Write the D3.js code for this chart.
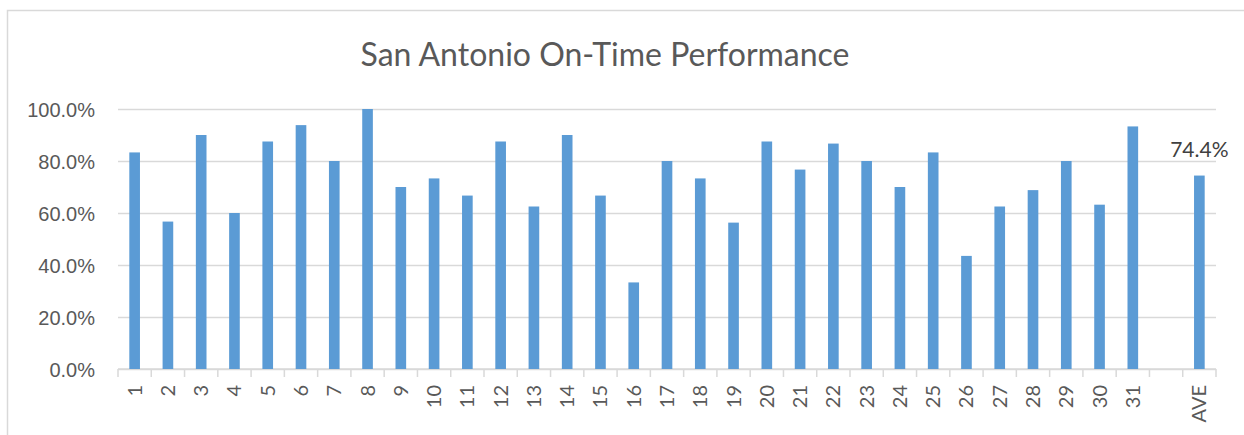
<!DOCTYPE html>
<html>
<head>
<meta charset="utf-8">
<script src="https://cdn.jsdelivr.net/npm/d3@7"></script>
<style>
  body { margin: 0; background: #fff; }
  svg { display: block; font-family: Lato, "Open Sans", sans-serif; }
</style>
</head>
<body>
<svg width="1244" height="435"></svg>
<script>
var categories = ["1", "2", "3", "4", "5", "6", "7", "8", "9", "10",
                  "11", "12", "13", "14", "15", "16", "17", "18", "19", "20",
                  "21", "22", "23", "24", "25", "26", "27", "28", "29", "30",
                  "31", "", "AVE"];

var onTime = [83.3, 56.7, 90.0, 60.0, 87.5, 93.8, 80.0, 100.0, 70.0, 73.3,
              66.7, 87.5, 62.5, 90.0, 66.7, 33.3, 80.0, 73.3, 56.3, 87.5,
              76.7, 86.7, 80.0, 70.0, 83.3, 43.5, 62.5, 68.8, 80.0, 63.2,
              93.3, null, 74.4];

var yTicks = [0, 20, 40, 60, 80, 100];

var data = categories.map(function(c, i) { return {cat: c, key: "k" + i, value: onTime[i]}; });

var svg = d3.select("svg"),
    margin = {top: 109, right: 28, bottom: 66, left: 118},
    width = +svg.attr("width") - margin.left - margin.right,
    height = +svg.attr("height") - margin.top - margin.bottom;

var grey = "#d9d9d9", textColor = "#595959";

// chart frame
svg.append("rect")
    .attr("x", 7.5).attr("y", 10.5)
    .attr("width", 1260).attr("height", 450)
    .attr("fill", "none")
    .attr("stroke", grey)
    .attr("stroke-width", 1.5);

svg.append("text")
    .attr("x", 605)
    .attr("y", 66)
    .attr("text-anchor", "middle")
    .attr("fill", textColor)
    .style("font-size", "32px")
    .text("San Antonio On-Time Performance");

var x = d3.scaleBand().range([0, width]).domain(data.map(function(d) { return d.key; })),
    y = d3.scaleLinear().range([height, 0]).domain([0, 100]);

var g = svg.append("g")
    .attr("transform", "translate(" + margin.left + "," + margin.top + ")");

// gridlines + y labels
var yAxis = g.append("g")
    .call(d3.axisLeft(y).tickValues(yTicks).tickSize(-width).tickPadding(23)
      .tickFormat(function(d) { return d.toFixed(1) + "%"; }));
yAxis.select(".domain").remove();
yAxis.selectAll(".tick line").attr("stroke", grey).attr("stroke-width", 1.5);
yAxis.selectAll(".tick text")
    .attr("fill", textColor)
    .style("font-size", "20px")
    .attr("dy", "0.35em");

// x axis: boundary ticks like Excel
var xAxis = g.append("g").attr("transform", "translate(0," + height + ")");
xAxis.append("line")
    .attr("x1", 0).attr("x2", width)
    .attr("stroke", grey).attr("stroke-width", 1.5);
xAxis.selectAll(".bound")
  .data(data.map(function(d) { return x(d.key); }).concat([width]))
  .enter().append("line")
    .attr("class", "bound")
    .attr("x1", function(d) { return d; })
    .attr("x2", function(d) { return d; })
    .attr("y1", 0).attr("y2", 8)
    .attr("stroke", grey).attr("stroke-width", 1.5);
xAxis.selectAll(".xlab")
  .data(data)
  .enter().append("text")
    .attr("class", "xlab")
    .attr("transform", function(d) {
      return "translate(" + (x(d.key) + x.bandwidth() / 2) + ",16) rotate(-90)";
    })
    .attr("text-anchor", "end")
    .attr("dy", "0.35em")
    .attr("fill", textColor)
    .style("font-size", "20px")
    .text(function(d) { return d.cat; });

// bars
var barW = x.bandwidth() * 0.32;
g.selectAll(".bar")
  .data(data.filter(function(d) { return d.value != null; }))
  .enter().append("rect")
    .attr("class", "bar")
    .attr("x", function(d) { return x(d.key) + (x.bandwidth() - barW) / 2; })
    .attr("y", function(d) { return y(d.value); })
    .attr("width", barW)
    .attr("height", function(d) { return height - y(d.value); })
    .attr("fill", "#5b9bd5");

// label on the average bar
var ave = data[data.length - 1];
g.append("text")
    .attr("x", x(ave.key) + x.bandwidth() / 2)
    .attr("y", y(ave.value) - 19)
    .attr("text-anchor", "middle")
    .attr("fill", "#404040")
    .style("font-size", "21px")
    .text(ave.value.toFixed(1) + "%");
</script>
</body>
</html>
